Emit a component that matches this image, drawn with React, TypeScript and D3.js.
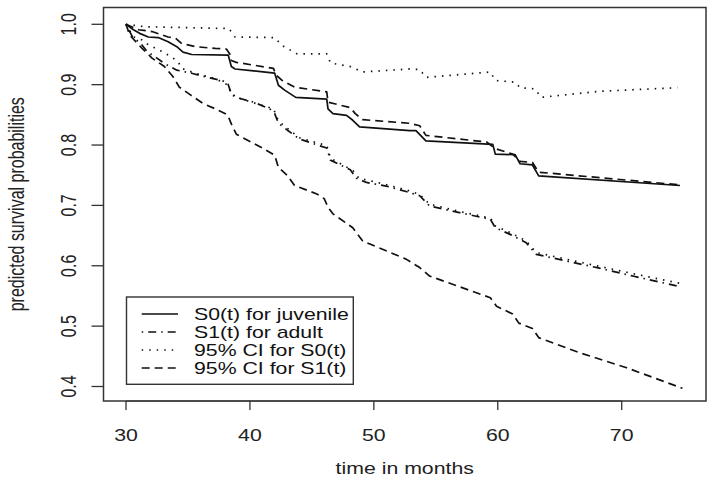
import React from "react";
import * as d3 from "d3";

// ---- data (time in months, predicted survival probability) ----
const xTicks = [30, 40, 50, 60, 70];
const yTicks = [0.4, 0.5, 0.6, 0.7, 0.8, 0.9, 1.0];

const s0Juvenile: [number, number][] = [
  [30, 1.0], [30.6, 0.991], [31.1, 0.985], [31.8, 0.979], [32.6, 0.978], [33.4, 0.971],
  [34.1, 0.963], [34.6, 0.954], [35.3, 0.95], [38.25, 0.949], [38.5, 0.93], [38.8, 0.926],
  [40.3, 0.923], [42.0, 0.919], [42.3, 0.899], [42.8, 0.891], [43.7, 0.879], [46.2, 0.876],
  [46.3, 0.86], [46.7, 0.852], [47.8, 0.849], [48.3, 0.841], [48.85, 0.83], [52.9, 0.824],
  [53.4, 0.824], [54.2, 0.807], [59.6, 0.801], [59.8, 0.785], [61.4, 0.784], [61.8, 0.769],
  [62.8, 0.767], [63.3, 0.749], [74.7, 0.733],
];

const s1Adult: [number, number][] = [
  [30, 1.0], [30.5, 0.98], [31.2, 0.968], [31.7, 0.955], [32.5, 0.944], [33.1, 0.935],
  [34.1, 0.924], [35.3, 0.919], [36.4, 0.913], [37.7, 0.907], [38.2, 0.903], [38.5, 0.885],
  [39.2, 0.877], [40.3, 0.871], [41.6, 0.86], [42.0, 0.852], [42.3, 0.836], [43.0, 0.825],
  [44.0, 0.81], [45.6, 0.799], [46.2, 0.795], [46.5, 0.775], [47.3, 0.767], [48.1, 0.759],
  [48.6, 0.745], [49.4, 0.738], [51.0, 0.732], [52.6, 0.723], [53.7, 0.716], [54.5, 0.699],
  [56.9, 0.688], [59.4, 0.677], [59.8, 0.663], [61.0, 0.652], [62.3, 0.638], [63.1, 0.619],
  [65.5, 0.608], [68.2, 0.596], [70.9, 0.583], [74.8, 0.565],
];

const ciS0Upper: [number, number][] = [
  [30, 1.0], [31.5, 0.996], [38.3, 0.993], [38.8, 0.979], [42.0, 0.978], [42.6, 0.965],
  [43.8, 0.951], [46.2, 0.951], [46.5, 0.936], [48.1, 0.93], [49.1, 0.921], [52.9, 0.926],
  [53.7, 0.925], [54.2, 0.912], [59.4, 0.921], [59.8, 0.907], [61.4, 0.904], [61.8, 0.895],
  [63.0, 0.893], [63.5, 0.879], [68.2, 0.889], [74.5, 0.895],
];

const ciS0Lower: [number, number][] = [
  [30, 1.0], [30.2, 0.993], [30.6, 0.979], [31.3, 0.974], [31.8, 0.966], [32.9, 0.955],
  [33.8, 0.944], [34.2, 0.938], [34.5, 0.927], [35.6, 0.919], [37.2, 0.91], [38.25, 0.899],
  [38.5, 0.883], [39.5, 0.875], [41.9, 0.86], [42.3, 0.84], [43.0, 0.828], [44.0, 0.812],
  [46.2, 0.799], [46.5, 0.778], [48.3, 0.758], [48.8, 0.745], [50.5, 0.737], [52.9, 0.724],
  [53.7, 0.718], [54.5, 0.702], [56.9, 0.69], [59.4, 0.679], [59.8, 0.666], [61.0, 0.655],
  [62.3, 0.641], [63.1, 0.622], [65.5, 0.611], [68.2, 0.599], [70.9, 0.587], [74.9, 0.57],
];

const ciS1Upper: [number, number][] = [
  [30, 1.0], [31.0, 0.991], [32.1, 0.988], [33.4, 0.979], [34.0, 0.977], [34.5, 0.968],
  [35.6, 0.963], [37.2, 0.96], [38.1, 0.959], [38.4, 0.95], [38.5, 0.94], [38.9, 0.937],
  [41.9, 0.927], [42.1, 0.916], [42.6, 0.907], [43.6, 0.896], [46.2, 0.888], [46.3, 0.871],
  [48.1, 0.862], [48.5, 0.852], [49.1, 0.842], [52.9, 0.836], [53.7, 0.832], [54.2, 0.816],
  [59.1, 0.805], [59.8, 0.794], [61.2, 0.785], [61.8, 0.773], [62.8, 0.771], [63.3, 0.755],
  [74.7, 0.734],
];

const ciS1Lower: [number, number][] = [
  [30, 1.0], [30.3, 0.982], [31.3, 0.96], [32.1, 0.944], [33.1, 0.93], [33.8, 0.913],
  [34.3, 0.896], [35.2, 0.883], [36.2, 0.869], [37.2, 0.86], [38.2, 0.85], [38.5, 0.835],
  [38.9, 0.818], [41.1, 0.794], [42.0, 0.783], [42.3, 0.763], [43.0, 0.75], [43.6, 0.733],
  [45.4, 0.719], [46.0, 0.711], [46.3, 0.697], [46.7, 0.686], [48.3, 0.663], [49.1, 0.641],
  [52.6, 0.611], [53.7, 0.597], [54.5, 0.583], [59.4, 0.547], [59.9, 0.533], [61.2, 0.52],
  [61.7, 0.505], [62.8, 0.496], [63.3, 0.481], [66.6, 0.456], [70.4, 0.431], [74.9, 0.397],
];

const legendLabels = ["S0(t) for juvenile", "S1(t) for adult", "95% CI for S0(t)", "95% CI for S1(t)"];

// ---- styles ----
const DASH_SOLID = "none";
const DASH_DOTDASH = "1.5,5,8,5";
const DASH_DOT = "1.5,6";
const DASH_DASH = "8,5";
const legendDashes = [DASH_SOLID, DASH_DOTDASH, DASH_DOT, DASH_DASH];

const W = 714;
const H = 483;
const FONT = "'Liberation Sans', Arial, Helvetica, sans-serif";
const FS = 16;
const SX = 1.33; // horizontal stretch of the reference picture

const box = { left: 103.5, right: 706, top: 7.5, bottom: 401 };

export default function App() {
  const x = d3.scaleLinear().domain([30, 70]).range([126, 621.7]);
  const y = d3.scaleLinear().domain([0.4, 1.0]).range([386.5, 24.3]);
  const line = d3
    .line<[number, number]>()
    .x((d) => x(d[0]))
    .y((d) => y(d[1]));

  const series: { data: [number, number][]; dash: string }[] = [
    { data: ciS0Upper, dash: DASH_DOT },
    { data: ciS0Lower, dash: DASH_DOT },
    { data: ciS1Upper, dash: DASH_DASH },
    { data: ciS1Lower, dash: DASH_DASH },
    { data: s1Adult, dash: DASH_DOTDASH },
    { data: s0Juvenile, dash: DASH_SOLID },
  ];

  const leg = { left: 126.5, top: 297, right: 353.3, bottom: 384.3 };
  const rowY = (i: number) => 314 + i * 18;

  return (
    <svg
      width={W}
      height={H}
      style={{ position: "absolute", left: 0, top: 0, background: "#fff" }}
      fontFamily={FONT}
    >
      <rect x={0} y={0} width={W} height={H} fill="#fff" />
      {series.map((s, i) => (
        <path
          key={i}
          d={line(s.data) || ""}
          fill="none"
          stroke="#111"
          strokeWidth={1.7}
          strokeDasharray={s.dash}
          strokeLinejoin="round"
        />
      ))}
      <rect
        x={box.left}
        y={box.top}
        width={box.right - box.left}
        height={box.bottom - box.top}
        fill="none"
        stroke="#333"
        strokeWidth={1.5}
      />
      {/* x axis */}
      <line x1={x(30)} x2={x(70)} y1={box.bottom} y2={box.bottom} stroke="#333" strokeWidth={1.2} />
      {xTicks.map((t) => (
        <g key={t}>
          <line x1={x(t)} x2={x(t)} y1={box.bottom} y2={box.bottom + 9} stroke="#333" strokeWidth={1.3} />
          <text
            transform={`translate(${x(t)},441) scale(${SX},1)`}
            textAnchor="middle"
            fontSize={FS}
            fill="#222"
          >
            {t}
          </text>
        </g>
      ))}
      {yTicks.map((v) => (
        <g key={v}>
          <line x1={box.left} x2={box.left - 12} y1={y(v)} y2={y(v)} stroke="#333" strokeWidth={1.3} />
          <text
            transform={`translate(76,${y(v)}) scale(${SX},1) rotate(-90)`}
            textAnchor="middle"
            fontSize={FS}
            fill="#222"
          >
            {v.toFixed(1)}
          </text>
        </g>
      ))}
      <text
        transform={`translate(${(box.left + box.right) / 2},474) scale(${SX},1)`}
        textAnchor="middle"
        fontSize={FS}
        fill="#222"
      >
        time in months
      </text>
      <text
        transform={`translate(23.6,${(box.top + box.bottom) / 2}) scale(${SX},1) rotate(-90)`}
        textAnchor="middle"
        fontSize={FS}
        fill="#222"
      >
        predicted survival probabilities
      </text>
      {/* legend */}
      <rect
        x={leg.left}
        y={leg.top}
        width={leg.right - leg.left}
        height={leg.bottom - leg.top}
        fill="#fff"
        stroke="#333"
        strokeWidth={1.4}
      />
      {legendLabels.map((lab, i) => (
        <g key={lab}>
          <line
            x1={141.7}
            x2={178}
            y1={rowY(i)}
            y2={rowY(i)}
            stroke="#111"
            strokeWidth={1.7}
            strokeDasharray={legendDashes[i]}
          />
          <text
            transform={`translate(194,${rowY(i) + 5.7}) scale(${SX},1)`}
            fontSize={FS}
            fill="#111"
          >
            {lab}
          </text>
        </g>
      ))}
    </svg>
  );
}
